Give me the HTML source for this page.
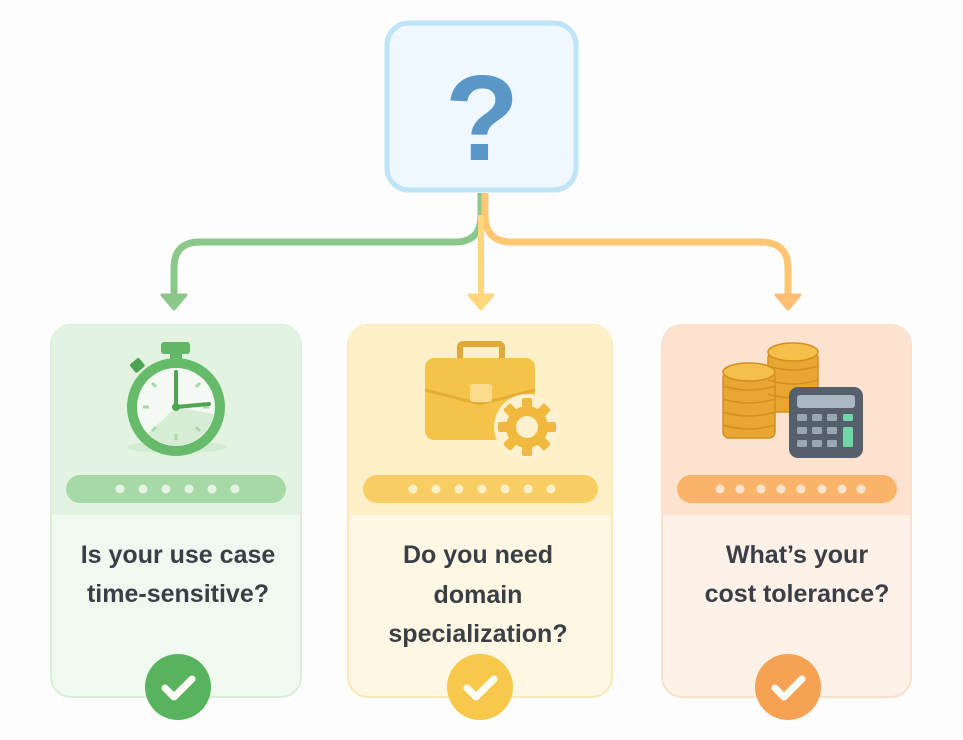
<!DOCTYPE html>
<html><head><meta charset="utf-8"><style>
html,body{margin:0;padding:0;background:#fdfdfd;}
svg{display:block}
text{font-family:"Liberation Sans","DejaVu Sans",sans-serif;font-weight:bold;fill:#3a3f47;font-size:25px;text-anchor:middle}
</style></head><body>
<svg width="963" height="740" viewBox="0 0 963 740" xmlns="http://www.w3.org/2000/svg">
<rect width="963" height="740" fill="#fdfdfd"/>
<rect x="387" y="23" width="189" height="167" rx="22" fill="#eef8fe" stroke="#bfe3f7" stroke-width="5"/>
<text x="482" y="160" style="font-size:122px;fill:#5b97c6">?</text>
<path d="M481 193 V215 Q481 242 455 242 H200 Q174 242 174 268 V298" fill="none" stroke="#8cc78a" stroke-width="7"/>
<path d="M485 193 V215 Q485 242 512 242 H760 Q788 242 788 268 V298" fill="none" stroke="#ffc774" stroke-width="7"/>
<path d="M481 215 V298" fill="none" stroke="#ffd77a" stroke-width="6"/>
<polygon points="162,295 186,295 174,309" fill="#8cc78a" stroke="#8cc78a" stroke-width="3" stroke-linejoin="round"/>
<polygon points="469,295 493,295 481,309" fill="#ffd77a" stroke="#ffd77a" stroke-width="3" stroke-linejoin="round"/>
<polygon points="776,295 800,295 788,309" fill="#ffbe72" stroke="#ffbe72" stroke-width="3" stroke-linejoin="round"/>
<g>
<rect x="51" y="325" width="250" height="372" rx="20" fill="#f0f9f0" stroke="#d8eed8" stroke-width="2"/>
<path d="M51 345 Q51 325 71 325 H281 Q301 325 301 345 V515 H51 Z" fill="#e2f3e2"/>
<rect x="348" y="325" width="264" height="372" rx="20" fill="#fef7e3" stroke="#fbe8b8" stroke-width="2"/>
<path d="M348 345 Q348 325 368 325 H592 Q612 325 612 345 V515 H348 Z" fill="#fdefc6"/>
<rect x="662" y="325" width="249" height="372" rx="20" fill="#fdf1e8" stroke="#fadfcc" stroke-width="2"/>
<path d="M662 345 Q662 325 682 325 H891 Q911 325 911 345 V515 H662 Z" fill="#fde3cf"/>
</g>
<ellipse cx="177" cy="447" rx="50" ry="6" fill="#d2ebd2"/>
<rect x="161" y="342" width="29" height="12" rx="3" fill="#62b766"/>
<rect x="170" y="352" width="12" height="8" fill="#62b766"/>
<rect x="131" y="360" width="12" height="11" rx="2" fill="#4fa454" transform="rotate(-40 137 365)"/>
<circle cx="176" cy="407" r="49" fill="#66bb6a"/>
<circle cx="176" cy="407" r="39" fill="#f4faf3"/>
<path d="M176 407 L214 414 A39 39 0 0 1 148 434 Z" fill="#d6ecd4"/>
<g stroke="#a8d8a8" stroke-width="3"><line x1="176" y1="374" x2="176" y2="380"/><line x1="176" y1="434" x2="176" y2="440"/><line x1="143" y1="407" x2="149" y2="407"/><line x1="203" y1="407" x2="209" y2="407"/><line x1="152" y1="383" x2="156" y2="387"/><line x1="200" y1="383" x2="196" y2="387"/><line x1="152" y1="431" x2="156" y2="427"/><line x1="200" y1="431" x2="196" y2="427"/></g>
<line x1="176" y1="407" x2="176" y2="372" stroke="#4ea552" stroke-width="4" stroke-linecap="round"/>
<line x1="176" y1="407" x2="209" y2="404" stroke="#4ea552" stroke-width="4" stroke-linecap="round"/>
<circle cx="176" cy="407" r="4" fill="#4ea552"/>
<rect x="460" y="344" width="42" height="18" rx="3" fill="none" stroke="#e0a93a" stroke-width="6"/>
<rect x="425" y="358" width="110" height="82" rx="9" fill="#f5c24a"/>
<path d="M425 390 L480 404 L535 390" fill="none" stroke="#e5ad34" stroke-width="3"/>
<rect x="470" y="384" width="22" height="18" rx="3" fill="#fbdc8a"/>
<circle cx="527" cy="427" r="33" fill="#fdf1cf"/>
<g fill="#f0b83c" transform="translate(527 427)">
<circle r="21"/>
<rect x="-5" y="-29" width="10" height="12" rx="2"/>
<rect x="-5" y="-29" width="10" height="12" rx="2" transform="rotate(45)"/>
<rect x="-5" y="-29" width="10" height="12" rx="2" transform="rotate(90)"/>
<rect x="-5" y="-29" width="10" height="12" rx="2" transform="rotate(135)"/>
<rect x="-5" y="-29" width="10" height="12" rx="2" transform="rotate(180)"/>
<rect x="-5" y="-29" width="10" height="12" rx="2" transform="rotate(225)"/>
<rect x="-5" y="-29" width="10" height="12" rx="2" transform="rotate(270)"/>
<rect x="-5" y="-29" width="10" height="12" rx="2" transform="rotate(315)"/>
<circle r="11" fill="#fdf1cf"/>
</g>
<g fill="#e9a632" stroke="#d38f22" stroke-width="1.5">
<rect x="768" y="352" width="50" height="60" rx="6"/>
<ellipse cx="793" cy="352" rx="25" ry="9" fill="#f5c04a"/>
<rect x="723" y="372" width="52" height="66" rx="6"/>
<ellipse cx="749" cy="372" rx="26" ry="9" fill="#f5c04a"/>
</g>
<g stroke="#d38f22" stroke-width="1.5" fill="none">
<path d="M723 386 Q749 394 775 386 M723 399 Q749 407 775 399 M723 412 Q749 420 775 412 M723 425 Q749 433 775 425"/>
<path d="M768 366 Q793 374 818 366 M768 380 Q793 388 818 380 M768 394 Q793 402 818 394"/>
</g>
<rect x="789" y="387" width="74" height="71" rx="9" fill="#56606d"/>
<rect x="797" y="395" width="58" height="13" rx="3" fill="#aab6c2"/>
<g fill="#9aa6b3">
<rect x="797" y="414" width="10" height="7" rx="1.5"/><rect x="812" y="414" width="10" height="7" rx="1.5"/><rect x="827" y="414" width="10" height="7" rx="1.5"/>
<rect x="797" y="427" width="10" height="7" rx="1.5"/><rect x="812" y="427" width="10" height="7" rx="1.5"/><rect x="827" y="427" width="10" height="7" rx="1.5"/>
<rect x="797" y="440" width="10" height="7" rx="1.5"/><rect x="812" y="440" width="10" height="7" rx="1.5"/><rect x="827" y="440" width="10" height="7" rx="1.5"/>
</g>
<rect x="843" y="414" width="10" height="7" rx="1.5" fill="#6fd6a6"/>
<rect x="843" y="427" width="10" height="20" rx="1.5" fill="#6fd6a6"/>
<rect x="66" y="475" width="220" height="28" rx="14" fill="#a6d9a6"/>
<g fill="#e4f3e4"><circle cx="120" cy="489" r="4.5"/><circle cx="143" cy="489" r="4.5"/><circle cx="166" cy="489" r="4.5"/><circle cx="189" cy="489" r="4.5"/><circle cx="212" cy="489" r="4.5"/><circle cx="235" cy="489" r="4.5"/></g>
<rect x="363" y="475" width="235" height="28" rx="14" fill="#f7cd64"/>
<g fill="#fdefc6"><circle cx="413" cy="489" r="4.5"/><circle cx="436" cy="489" r="4.5"/><circle cx="459" cy="489" r="4.5"/><circle cx="482" cy="489" r="4.5"/><circle cx="505" cy="489" r="4.5"/><circle cx="528" cy="489" r="4.5"/><circle cx="551" cy="489" r="4.5"/></g>
<rect x="677" y="475" width="220" height="28" rx="14" fill="#f9b46a"/>
<g fill="#fde3cf"><circle cx="720" cy="489" r="4.5"/><circle cx="740" cy="489" r="4.5"/><circle cx="761" cy="489" r="4.5"/><circle cx="781" cy="489" r="4.5"/><circle cx="801" cy="489" r="4.5"/><circle cx="822" cy="489" r="4.5"/><circle cx="842" cy="489" r="4.5"/><circle cx="861" cy="489" r="4.5"/></g>
<text x="178" y="563">Is your use case</text>
<text x="178" y="602">time-sensitive?</text>
<text x="478" y="563">Do you need</text>
<text x="478" y="603">domain</text>
<text x="478" y="642">specialization?</text>
<text x="797" y="563">What’s your</text>
<text x="797" y="602">cost tolerance?</text>
<circle cx="178" cy="687" r="33" fill="#58b35e"/>
<circle cx="480" cy="687" r="33" fill="#f7c84c"/>
<circle cx="788" cy="687" r="33" fill="#f6a255"/>
<g fill="none" stroke="#fdfdf6" stroke-width="7" stroke-linecap="round" stroke-linejoin="round">
<path d="M165 688 L174 697 L192 679"/><path d="M467 688 L476 697 L494 679"/><path d="M775 688 L784 697 L802 679"/>
</g>
</svg>
</body></html>
